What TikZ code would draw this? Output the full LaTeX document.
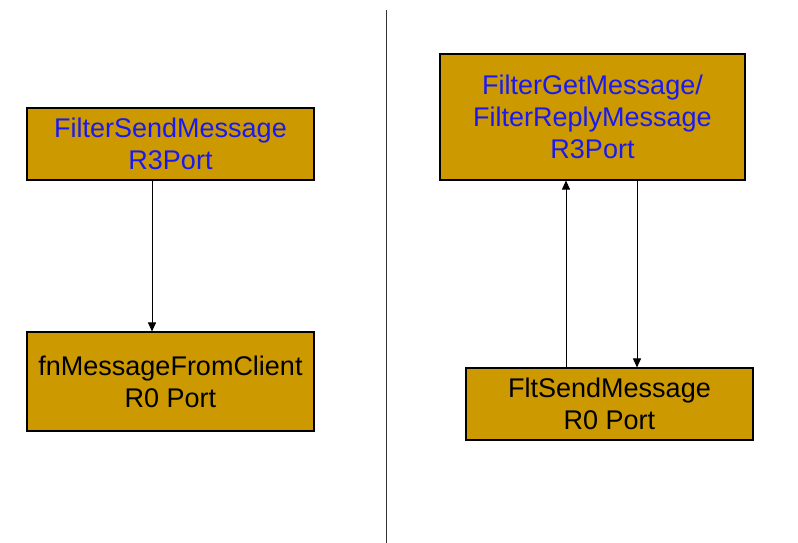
\documentclass[tikz,border=0pt]{standalone}
\usepackage{fontspec}
\setmainfont{Liberation Sans}
\usetikzlibrary{arrows.meta}
\definecolor{boxfill}{HTML}{CC9900}
\definecolor{bluetext}{HTML}{1A1AF0}
\begin{document}
\begin{tikzpicture}[x=1pt,y=-1pt,
  box/.style={draw=black, line width=1.1pt, fill=boxfill, align=center, inner sep=0pt,
    font=\fontsize{27}{32}\selectfont},
  conn/.style={line width=0.9pt, -{Triangle[length=9pt,width=8pt]}}]
\useasboundingbox (0,0) rectangle (798,543);
\fill[white] (0,0) rectangle (798,543);
\node[box, minimum width=287pt, minimum height=72pt, text=bluetext] (A) at (170.5,144) {FilterSendMessage\\R3Port};
\node[box, minimum width=287pt, minimum height=99pt] (B) at (170.5,381.5) {fnMessageFromClient\\R0 Port};
\node[box, minimum width=305pt, minimum height=126pt, text=bluetext] (C) at (592.5,117) {FilterGetMessage/\\FilterReplyMessage\\R3Port};
\node[box, minimum width=287pt, minimum height=72pt] (D) at (609.5,404) {FltSendMessage\\R0 Port};
\coordinate (top) at (386,10);
\coordinate (bot) at (386,543);
\draw[line width=1pt, black!80] (top) -- (bot);
\draw[conn] ([xshift=-18.5pt]A.south) -- ([xshift=-18.5pt]B.north);
\draw[conn] ([xshift=-43.5pt]D.north) -- ([xshift=-26.5pt]C.south);
\draw[conn] ([xshift=44.5pt]C.south) -- ([xshift=27.5pt]D.north);
\end{tikzpicture}
\end{document}
